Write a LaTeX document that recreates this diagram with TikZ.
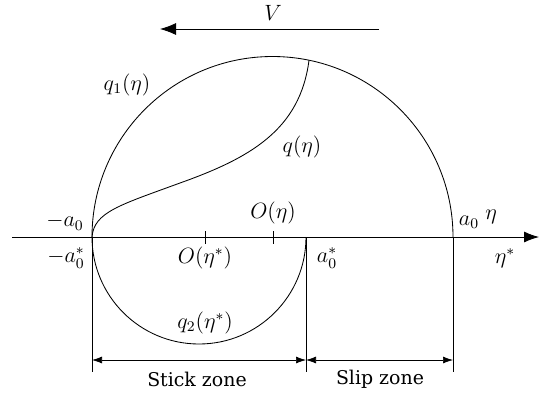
\documentclass[tikz,border=0pt]{standalone}
\usepackage{fontspec}
\setmainfont{DejaVu Serif}
\usetikzlibrary{arrows.meta}
\begin{document}
\begin{tikzpicture}[x=1bp, y=-1bp, line width=0.85bp,
  lbl/.style={font=\fontsize{12}{14}\selectfont, inner sep=0pt, scale=1.85, transform shape},
  zone/.style={font=\fontsize{19}{23}\selectfont, inner sep=0pt},
  dim/.style={{Latex[length=10bp,width=7bp]}-{Latex[length=10bp,width=7bp]}, line width=0.7bp}]
  \useasboundingbox (0,0) rectangle (540,393);
  % --- Key points on the axis ---
  \coordinate (ml) at (92,237);
  \coordinate (sr) at (306,237);
  \coordinate (mr) at (453,237);
  \coordinate (c1) at (272.5,237);
  \coordinate (ax0) at (12,237);
  \coordinate (ax1) at (539,237);
  \coordinate (qm) at (180,183);
  \coordinate (qtop) at ([shift={(c1)}]-78.33:180.5);
  % --- Axis ---
  \draw[-{Latex[length=15bp,width=11bp]}] (ax0) -- (ax1);
  % --- Ticks ---
  \foreach \x/\n in {205/ts,273/tb} {
    \coordinate (\n a) at (\x,231);
    \coordinate (\n b) at (\x,244);
    \draw (\n a) -- (\n b);
  }
  % --- Pressure curves ---
  \draw (mr) arc[start angle=0, end angle=-180, radius=180.5];
  \draw (sr) arc[start angle=0, end angle=180, radius=107];
  \draw (ml) .. controls (94,212) and (120,205) .. (qm)
             .. controls (250,158) and (300,130) .. (qtop);
  % --- Zone limits ---
  \foreach \x/\n in {92/l,306/m,453/r} {
    \coordinate (\n top) at (\x,237);
    \coordinate (\n bot) at (\x,372);
    \coordinate (\n dim) at (\x,360);
    \draw[line width=0.7bp] (\n top) -- (\n bot);
  }
  \draw[dim] (ldim) -- (mdim);
  \draw[dim] (mdim) -- (rdim);
  % --- Sliding direction ---
  \coordinate (v0) at (379,29);
  \coordinate (v1) at (160,29);
  \draw[-{Latex[length=16bp,width=12bp]}] (v0) -- (v1);
  % --- Labels ---
  \node[lbl] (vlab) at (273,13) {$V$};
  \node[lbl] (q1lab) at (127,85) {$q_1(\eta)$};
  \node[lbl] (qlab) at (302,147) {$q(\eta)$};
  \node[lbl] (oeta) at (273,213) {$O(\eta)$};
  \node[lbl] (ma0) at (65,222) {$-a_0$};
  \node[lbl] (a0) at (469,222) {$a_0$};
  \node[lbl] (eta) at (491,217) {$\eta$};
  \node[lbl] (ma0s) at (66,258) {$-a_0^*$};
  \node[lbl] (oetas) at (205,258) {$O(\eta^*)$};
  \node[lbl] (a0s) at (327,258) {$a_0^*$};
  \node[lbl] (etas) at (505,258) {$\eta^*$};
  \node[lbl] (q2lab) at (205,323) {$q_2(\eta^*)$};
  \node[zone] (stick) at (197,379) {Stick zone};
  \node[zone] (slip) at (380,379) {Slip zone};
\end{tikzpicture}
\end{document}
